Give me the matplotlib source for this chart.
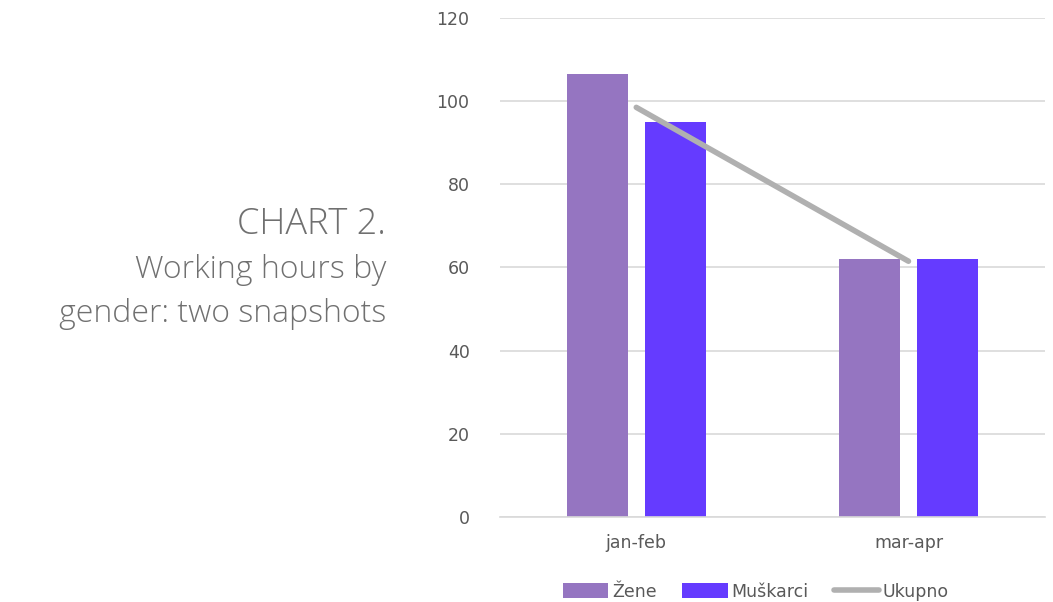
import matplotlib.pyplot as plt
import numpy as np

# data
categories = ['jan-feb', 'mar-apr']
zene = [106.5, 62]
muskarci = [95, 62]
ukupno = [98.5, 61.5]

fig = plt.figure(figsize=(10.53, 6.02), dpi=100)
ax = fig.add_axes([0.475, 0.1412, 0.517, 0.829])

x = np.arange(len(categories))
w = 0.224
b1 = ax.bar(x - 0.144, zene, w, color='#9575c1', label='Žene', zorder=2)
b2 = ax.bar(x + 0.144, muskarci, w, color='#653bff', label='Muškarci', zorder=2)
ln, = ax.plot(x, ukupno, color='#b0b0b0', lw=4, solid_capstyle='round', label='Ukupno', zorder=3)

ax.set_xlim(-0.5, 1.5)
ax.set_ylim(0, 120)
ax.set_yticks(range(0, 121, 20))
ax.set_xticks(x)
ax.set_xticklabels(categories)
ax.grid(axis='y', color='#d9d9d9', lw=1.2, zorder=0)
for s in ['top', 'right', 'left']:
    ax.spines[s].set_visible(False)
ax.spines['bottom'].set_color('#d9d9d9')
ax.spines['bottom'].set_linewidth(1.2)
ax.tick_params(length=0, colors='#595959', labelsize=12.5, pad=12)
ax.tick_params(axis='y', pad=22)

ax.legend([b1, b2, ln], ['Žene', 'Muškarci', 'Ukupno'], loc='upper center',
          bbox_to_anchor=(0.47, -0.1), ncol=3, frameon=False,
          fontsize=12.5, labelcolor='#595959', handlelength=2.6, handleheight=1.0,
          columnspacing=1.5, handletextpad=0.2)

# title block on the left
tx = 386 / 1053
fig.text(tx, 1 - 224 / 602, 'CHART 2.', ha='right', va='center',
         fontsize=26, color='#707070', family='Open Sans', weight='light')
fig.text(tx, 1 - 270 / 602, 'Working hours by', ha='right', va='center',
         fontsize=23, color='#707070', family='Open Sans', weight='light')
fig.text(tx, 1 - 314 / 602, 'gender: two snapshots', ha='right', va='center',
         fontsize=23, color='#707070', family='Open Sans', weight='light')

fig.savefig('out.png', dpi=100)
